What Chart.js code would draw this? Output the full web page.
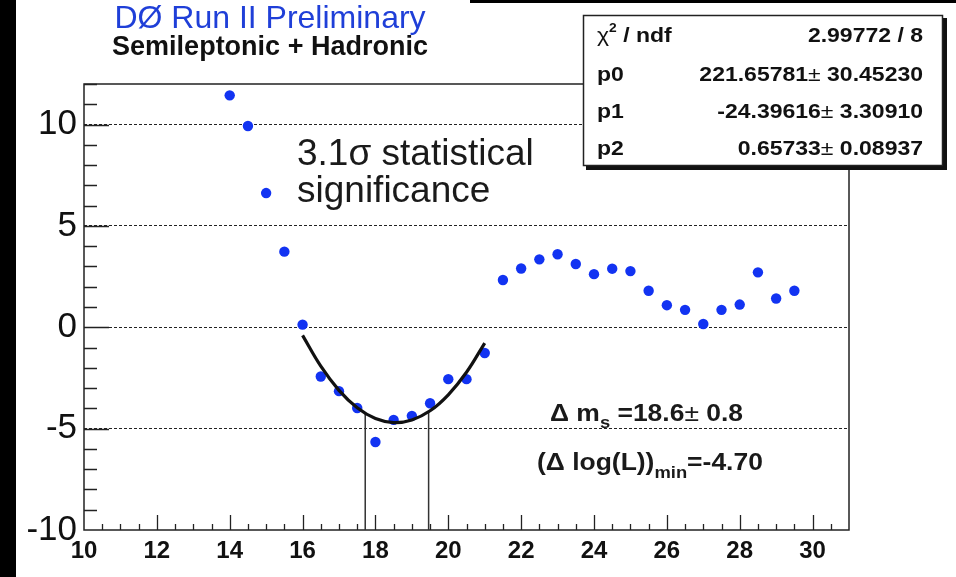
<!DOCTYPE html>
<html>
<head>
<meta charset="utf-8">
<script src="https://cdn.jsdelivr.net/npm/chart.js@4.4.1/dist/chart.umd.min.js"></script>
<style>
  html, body { margin: 0; padding: 0; background: #fff; overflow: hidden; }
</style>
</head>
<body>
<canvas id="likelihoodChart" width="956" height="577"></canvas>
<script>
"use strict";

// scan points: delta m_s vs delta log(L)
const scanX = [14, 14.5, 15, 15.5, 16, 16.5, 17, 17.5, 18, 18.5, 19, 19.5, 20, 20.5, 21, 21.5,
  22, 22.5, 23, 23.5, 24, 24.5, 25, 25.5, 26, 26.5, 27, 27.5, 28, 28.5, 29, 29.5];
const scanY = [11.44, 9.93, 6.62, 3.73, 0.13, -2.43, -3.15, -3.98, -5.66, -4.57, -4.37, -3.75,
  -2.56, -2.56, -1.27, 2.33, 2.9, 3.35, 3.6, 3.12, 2.62, 2.89, 2.77, 1.8, 1.09, 0.86, 0.16, 0.86,
  1.12, 2.71, 1.42, 1.8];

// parabola fit
const fitX = [16, 16.5, 17, 17.5, 18, 18.5, 19, 19.5, 20, 20.5, 21];
const fitY = [-0.4, -1.92, -3.11, -3.97, -4.5, -4.7, -4.57, -4.12, -3.33, -2.22, -0.78];

// +- 1 sigma markers
const sigmaX = [17.72, 19.46];
const sigmaTop = [-4.22, -4.18];

// tick labels
const xTickValues = [10, 12, 14, 16, 18, 20, 22, 24, 26, 28, 30];
const yTickValues = [-10, -5, 0, 5, 10];

// stats box rows
const statNames = ["p0", "p1", "p2"];
const statValues = ["221.65781", "-24.39616", "0.65733"];
const statErrors = ["30.45230", "3.30910", "0.08937"];

const FONT = "'Liberation Sans', Arial, sans-serif";
const STRETCH = 1.15; // the picture text is a bit wide

const toPoints = (xs, ys) => xs.map((x, i) => ({ x: x, y: ys[i] }));

// draw a run of text pieces (for sub/superscripts), left or right anchored
function drawRuns(ctx, runs, x, y, anchor) {
  let total = 0;
  runs.forEach((r) => {
    ctx.font = r.font;
    total += ctx.measureText(r.text).width;
  });
  ctx.save();
  ctx.translate(x, y);
  ctx.scale(STRETCH, 1);
  ctx.textAlign = "left";
  let cx = anchor === "right" ? -total : 0;
  runs.forEach((r) => {
    ctx.font = r.font;
    ctx.fillText(r.text, cx, r.dy || 0);
    cx += ctx.measureText(r.text).width;
  });
  ctx.restore();
}

const rootStyle = {
  id: "rootStyle",
  beforeDraw(chart) {
    const ctx = chart.ctx;
    ctx.save();
    ctx.fillStyle = "#fff";
    ctx.fillRect(0, 0, chart.width, chart.height);
    ctx.fillStyle = "#000";
    ctx.fillRect(0, 0, 16, chart.height);
    ctx.fillRect(470, 0, chart.width - 470, 3);
    ctx.restore();
  },
  beforeDatasetsDraw(chart) {
    const { ctx, chartArea: a } = chart;
    const xs = chart.scales.x;
    const ys = chart.scales.y;
    ctx.save();
    ctx.strokeStyle = "#222";
    ctx.lineWidth = 1.5;
    ctx.strokeRect(a.left, a.top, a.right - a.left, a.bottom - a.top);

    // inner ticks, ROOT style
    ctx.lineWidth = 1.3;
    ctx.beginPath();
    for (let v = 10.5; v < 31; v += 0.5) {
      const px = Math.round(xs.getPixelForValue(v)) + 0.5;
      const len = v % 2 === 0 ? 15 : 6;
      ctx.moveTo(px, a.bottom);
      ctx.lineTo(px, a.bottom - len);
    }
    for (let v = -9; v <= 12; v += 1) {
      const py = Math.round(ys.getPixelForValue(v)) + 0.5;
      const len = v % 5 === 0 ? 25 : 13;
      ctx.moveTo(a.left, py);
      ctx.lineTo(a.left + len, py);
    }
    ctx.stroke();
    ctx.restore();
  },
  afterDraw(chart) {
    const ctx = chart.ctx;
    ctx.save();
    ctx.textBaseline = "alphabetic";

    // header
    ctx.textAlign = "center";
    ctx.fillStyle = "#1f3fd8";
    ctx.font = "32px " + FONT;
    ctx.fillText("DØ Run II Preliminary", 270, 28);
    ctx.fillStyle = "#111";
    ctx.font = "bold 27px " + FONT;
    ctx.fillText("Semileptonic + Hadronic", 270, 55);

    // significance note
    ctx.textAlign = "left";
    ctx.fillStyle = "#1a1a1a";
    ctx.font = "37px " + FONT;
    ctx.fillText("3.1σ statistical", 297, 165);
    ctx.fillText("significance", 297, 202);

    // fit result
    const big = "bold 23px " + FONT;
    const sub = "bold 16px " + FONT;
    drawRuns(ctx, [
      { text: "Δ m", font: big },
      { text: "s", font: sub, dy: 7 },
      { text: " =18.6", font: big },
      { text: "±", font: "23px " + FONT },
      { text: " 0.8", font: big }
    ], 550, 421);
    drawRuns(ctx, [
      { text: "(Δ log(L))", font: big },
      { text: "min", font: sub, dy: 8 },
      { text: "=-4.70", font: big }
    ], 537, 470);

    // stats box
    ctx.fillStyle = "#111";
    ctx.fillRect(586, 18, 361, 152);
    ctx.fillStyle = "#fff";
    ctx.fillRect(583, 15, 360, 151);
    ctx.strokeStyle = "#222";
    ctx.lineWidth = 1.5;
    ctx.strokeRect(583.5, 15.5, 359, 150);

    ctx.fillStyle = "#111";
    const statFont = "bold 20px " + FONT;
    const pmFont = "20px " + FONT;
    drawRuns(ctx, [
      { text: "χ", font: pmFont },
      { text: "2", font: "bold 12px " + FONT, dy: -10 },
      { text: " / ndf", font: statFont }
    ], 597, 42);
    drawRuns(ctx, [{ text: "2.99772 / 8", font: statFont }], 923, 42, "right");
    const rowY = [81, 118, 155];
    statNames.forEach((name, i) => {
      drawRuns(ctx, [{ text: name, font: statFont }], 597, rowY[i]);
      drawRuns(ctx, [
        { text: statValues[i], font: statFont },
        { text: "±", font: pmFont },
        { text: " " + statErrors[i], font: statFont }
      ], 923, rowY[i], "right");
    });
    ctx.restore();
  }
};

const ctx = document.getElementById("likelihoodChart").getContext("2d");
new Chart(ctx, {
  type: "scatter",
  data: {
    datasets: [
      {
        label: "fit",
        data: toPoints(fitX, fitY),
        showLine: true,
        borderColor: "#111",
        borderWidth: 3.2,
        pointRadius: 0,
        tension: 0.4,
        fill: false
      },
      {
        label: "sigma low",
        data: [{ x: sigmaX[0], y: sigmaTop[0] }, { x: sigmaX[0], y: -10 }],
        showLine: true,
        borderColor: "#333",
        borderWidth: 1.5,
        pointRadius: 0
      },
      {
        label: "sigma high",
        data: [{ x: sigmaX[1], y: sigmaTop[1] }, { x: sigmaX[1], y: -10 }],
        showLine: true,
        borderColor: "#333",
        borderWidth: 1.5,
        pointRadius: 0
      },
      {
        label: "scan",
        data: toPoints(scanX, scanY),
        backgroundColor: "#1233f2",
        borderWidth: 0,
        pointRadius: 5.2
      }
    ]
  },
  options: {
    responsive: false,
    animation: false,
    devicePixelRatio: 1,
    layout: { padding: { top: 84, right: 107, bottom: 0, left: 0 } },
    plugins: {
      legend: { display: false },
      tooltip: { enabled: false }
    },
    scales: {
      x: {
        type: "linear",
        min: 10,
        max: 31,
        afterBuildTicks: (scale) => {
          scale.ticks = xTickValues.map((v) => ({ value: v }));
        },
        afterFit: (scale) => {
          scale.height = 47;
        },
        grid: { display: false, drawTicks: false },
        border: { display: false },
        ticks: {
          color: "#111",
          padding: 7,
          maxRotation: 0,
          autoSkip: false,
          font: { family: FONT, size: 24, weight: "bold" }
        }
      },
      y: {
        type: "linear",
        min: -10,
        max: 12,
        afterBuildTicks: (scale) => {
          scale.ticks = yTickValues.map((v) => ({ value: v }));
        },
        afterFit: (scale) => {
          scale.width = 84;
        },
        grid: {
          drawTicks: false,
          lineWidth: 1,
          color: (c) => (c.tick && c.tick.value === -10 ? "rgba(0,0,0,0)" : "#222")
        },
        border: { display: false, dash: [3, 2] },
        ticks: {
          color: "#111",
          padding: 7,
          font: { family: FONT, size: 35 }
        }
      }
    }
  },
  plugins: [rootStyle]
});
</script>
</body>
</html>
